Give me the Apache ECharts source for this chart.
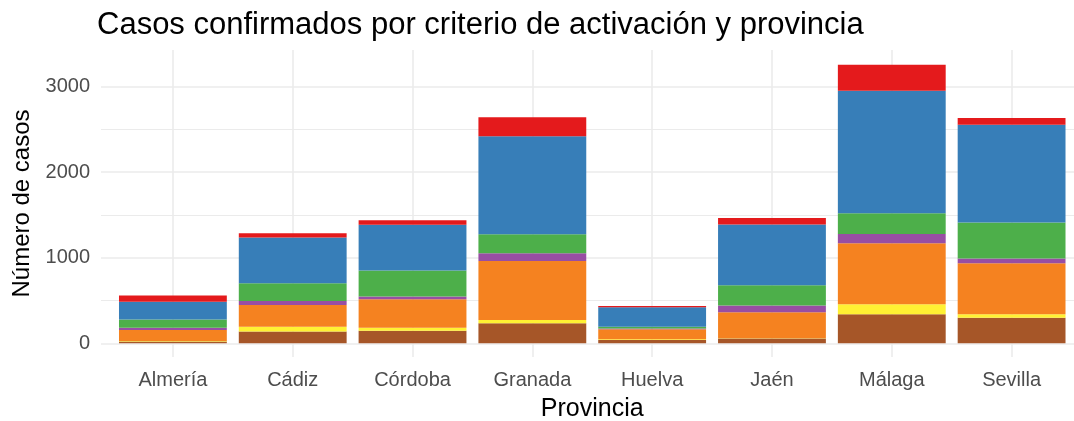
<!DOCTYPE html>
<html>
<head>
<meta charset="utf-8">
<script src="https://cdn.jsdelivr.net/npm/echarts@6/dist/echarts.min.js"></script>
<style>
html,body{margin:0;padding:0;background:#fff;}
#chart{width:1074px;height:421px;}
</style>
</head>
<body>
<div id="chart"></div>
<script>
const provincias = ["Almería", "Cádiz", "Córdoba", "Granada", "Huelva", "Jaén", "Málaga", "Sevilla"];
// stacked from bottom to top
const criterio1 = [20, 137, 148, 234, 40, 55, 339, 300];     // brown
const criterio2 = [7, 58, 35, 39, 7, 4, 117, 39];            // yellow
const criterio3 = [129, 254, 332, 690, 117, 304, 714, 597];  // orange
const criterio4 = [27, 46, 31, 90, 10, 78, 109, 55];         // purple
const criterio5 = [94, 207, 304, 222, 21, 238, 242, 421];    // green
const criterio6 = [210, 534, 535, 1147, 226, 709, 1431, 1143]; // blue
const criterio7 = [71, 51, 54, 222, 16, 78, 305, 78];        // red
const yGridMajor = [0, 1000, 2000, 3000];
const yGridMinor = [500, 1500, 2500];
const yMin = -160, yMax = 3429;

const seriesDefs = [
  {name: "Criterio 1", data: criterio1, color: "#A65628"},
  {name: "Criterio 2", data: criterio2, color: "#FFF133"},
  {name: "Criterio 3", data: criterio3, color: "#F58220"},
  {name: "Criterio 4", data: criterio4, color: "#984EA3"},
  {name: "Criterio 5", data: criterio5, color: "#4DAF4A"},
  {name: "Criterio 6", data: criterio6, color: "#377EB8"},
  {name: "Criterio 7", data: criterio7, color: "#E41A1C"}
];

const font = "'Liberation Sans', Arial, sans-serif";
const chart = echarts.init(document.getElementById('chart'), null, {renderer: 'canvas'});

const hLines = []
  .concat(yGridMajor.map(v => ({yAxis: v, lineStyle: {width: 1.6}})))
  .concat(yGridMinor.map(v => ({yAxis: v, lineStyle: {width: 1.2}})));
const vLines = provincias.map(p => ({xAxis: p, lineStyle: {width: 1.6}}));

const mk = (data) => ({
  silent: true,
  z: 0,
  symbol: 'none',
  animation: false,
  label: {show: false},
  emphasis: {disabled: true},
  lineStyle: {color: '#EBEBEB', type: 'solid'},
  data: data
});

const series = seriesDefs.map(s => ({
  name: s.name,
  type: 'bar',
  stack: 'total',
  data: s.data,
  xAxisIndex: 0,
  yAxisIndex: 0,
  barCategoryGap: '10%',
  itemStyle: {color: s.color},
  z: 2
}));
series.unshift({
  name: 'vgrid',
  type: 'line',
  xAxisIndex: 0,
  yAxisIndex: 0,
  data: provincias.map(() => null),
  showSymbol: false,
  silent: true,
  z: 0,
  markLine: mk(vLines)
});
series.unshift({
  name: 'hgrid',
  type: 'line',
  xAxisIndex: 1,
  yAxisIndex: 1,
  data: [],
  showSymbol: false,
  silent: true,
  z: 0,
  markLine: mk(hLines)
});

chart.setOption({
  animation: false,
  backgroundColor: '#fff',
  title: {
    text: 'Casos confirmados por criterio de activación y provincia',
    left: 92,
    top: 5,
    textStyle: {fontFamily: font, fontSize: 31, fontWeight: 'normal', color: '#000'}
  },
  grid: [
    {left: 113, right: 2.5, top: 50, bottom: 64, containLabel: false, outerBoundsMode: 'none'},
    {left: 101, right: 0, top: 50, bottom: 64, containLabel: false, outerBoundsMode: 'none'}
  ],
  xAxis: [{
    type: 'category',
    gridIndex: 0,
    data: provincias,
    axisLine: {show: false, onZero: false},
    axisTick: {show: false},
    splitLine: {show: false},
    axisLabel: {fontFamily: font, fontSize: 20, color: '#4D4D4D', margin: 13},
    name: 'Provincia',
    nameLocation: 'middle',
    nameGap: 40,
    nameTextStyle: {fontFamily: font, fontSize: 25, color: '#000'}
  }, {
    type: 'value',
    gridIndex: 1,
    min: 0, max: 1,
    show: false
  }],
  yAxis: [{
    type: 'value',
    gridIndex: 0,
    min: yMin,
    max: yMax,
    splitNumber: 4,
    axisLine: {show: false},
    axisTick: {show: false},
    splitLine: {show: false},
    axisLabel: {fontFamily: font, fontSize: 20, color: '#4D4D4D', margin: 23, showMinLabel: false, showMaxLabel: false,
      formatter: v => (v % 1000 === 0 ? String(v) : '')},
    name: 'Número de casos',
    nameLocation: 'middle',
    nameGap: 78,
    nameTextStyle: {fontFamily: font, fontSize: 24, color: '#000'}
  }, {
    type: 'value',
    gridIndex: 1,
    min: yMin,
    max: yMax,
    show: false
  }],
  series: series
});
</script>
</body>
</html>
